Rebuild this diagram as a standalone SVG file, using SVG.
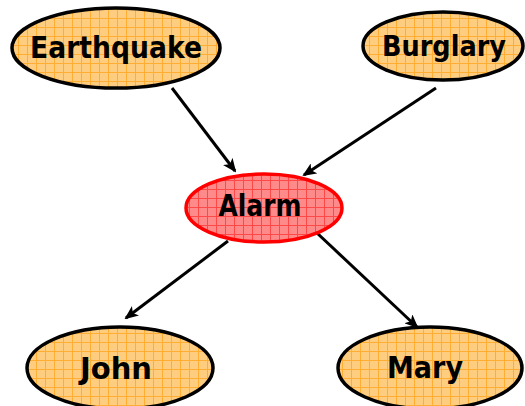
<svg xmlns="http://www.w3.org/2000/svg" width="525" height="406" viewBox="0 0 525 406">
<defs>
<pattern id="gridO" width="9" height="9" patternUnits="userSpaceOnUse">
<rect width="9" height="9" fill="#FFCD80"/>
<path d="M0 0.5H9M0.5 0V9" stroke="#FFAE33" stroke-width="1"/>
</pattern>
<pattern id="gridR" width="9" height="9" patternUnits="userSpaceOnUse">
<rect width="9" height="9" fill="#FF8A8A"/>
<path d="M0 0.5H9M0.5 0V9" stroke="#FF4848" stroke-width="1"/>
</pattern>
<marker id="ah" markerWidth="14" markerHeight="12" refX="12" refY="6" orient="auto" markerUnits="userSpaceOnUse">
<path d="M0 0L14 6L0 12L3.5 6Z" fill="#000"/>
</marker>
</defs>
<style>
.n{fill:url(#gridO);stroke:#000;stroke-width:3.5}
.a{fill:url(#gridR);stroke:#FF0000;stroke-width:3.5}
.t{font-family:"Comic Sans MS","DejaVu Sans",sans-serif;font-weight:bold;font-size:31px;fill:#000;text-anchor:middle}
.c{stroke:#000;stroke-width:3;fill:none;marker-end:url(#ah)}
</style>
<g id="connectors">
<line class="c" x1="172" y1="88" x2="235" y2="171"/>
<line class="c" x1="436" y1="88" x2="304" y2="175"/>
<line class="c" x1="228" y1="241" x2="126" y2="318"/>
<line class="c" x1="317" y1="233" x2="417" y2="327"/>
</g>
<g id="earthquake">
<ellipse class="n" cx="116" cy="48" rx="104" ry="40"/>
<text class="t" x="116" y="58" textLength="172" lengthAdjust="spacingAndGlyphs">Earthquake</text>
</g>
<g id="burglary">
<ellipse class="n" cx="443" cy="46" rx="80" ry="34"/>
<text class="t" x="444" y="56" style="font-size:29px" textLength="124" lengthAdjust="spacingAndGlyphs">Burglary</text>
</g>
<g id="alarm">
<ellipse class="a" cx="264" cy="208" rx="78" ry="34"/>
<text class="t" x="260" y="216" textLength="83" lengthAdjust="spacingAndGlyphs">Alarm</text>
</g>
<g id="john">
<ellipse class="n" cx="120" cy="368" rx="93" ry="41"/>
<text class="t" x="116" y="379" textLength="72" lengthAdjust="spacingAndGlyphs">John</text>
</g>
<g id="mary">
<ellipse class="n" cx="430" cy="368" rx="92" ry="41"/>
<text class="t" x="425" y="378" textLength="76" lengthAdjust="spacingAndGlyphs">Mary</text>
</g>
</svg>
